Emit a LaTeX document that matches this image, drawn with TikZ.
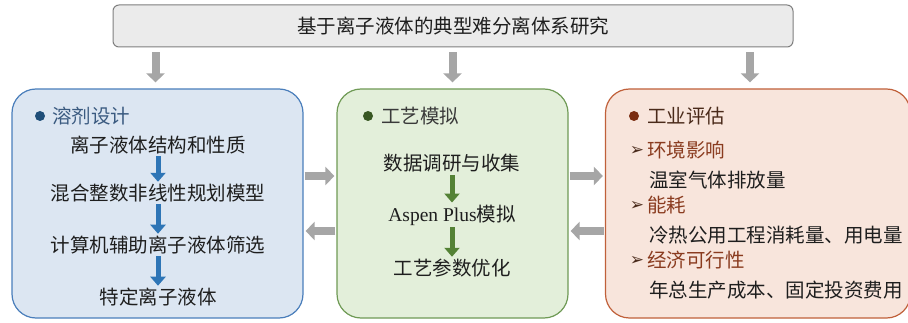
\documentclass[tikz,border=0pt]{standalone}
\usepackage{fontspec}
\newfontfamily\cjk{Noto Sans CJK SC}
\newfontfamily\latinserif{Liberation Serif}
\newfontfamily\symb{DejaVu Sans}
\usetikzlibrary{arrows.meta,calc}
\definecolor{topfill}{HTML}{EBEBEB}
\definecolor{topdraw}{HTML}{7F7F7F}
\definecolor{garrow}{HTML}{A6A6A6}
\definecolor{bfill}{HTML}{DCE6F2}
\definecolor{bdraw}{HTML}{4A7EBB}
\definecolor{barrow}{HTML}{2E75B6}
\definecolor{btitle}{HTML}{3A5A80}
\definecolor{bdot}{HTML}{1F4E79}
\definecolor{gfill}{HTML}{E3EFDA}
\definecolor{gdraw}{HTML}{6F9A55}
\definecolor{garr}{HTML}{548235}
\definecolor{gtitle}{HTML}{3A3A3A}
\definecolor{gdot}{HTML}{385723}
\definecolor{rfill}{HTML}{F8E5DC}
\definecolor{rdraw}{HTML}{C0603A}
\definecolor{rtitle}{HTML}{4A2A1A}
\definecolor{rdot}{HTML}{7B2E12}
\definecolor{rhead}{HTML}{8A3B1F}
\definecolor{txt}{HTML}{1E1E1E}
\tikzset{
  panel/.style={draw, line width=1.2pt, rounded corners=24pt, inner sep=0pt},
  txtnode/.style={font=\cjk\fontsize{19.5}{22}\selectfont, text=txt, inner sep=1pt},
  bulletarrow/.style={font=\symb\fontsize{17}{18}\selectfont, text=rtitle, inner sep=0pt},
  graybig/.style={draw=garrow, line width=8pt, -{Triangle[width=18pt,length=9pt]}},
  blueflow/.style={draw=barrow, line width=5pt, -{Triangle[width=15pt,length=9pt]}},
  greenflow/.style={draw=garr, line width=5pt, -{Triangle[width=15pt,length=9pt]}},
  dotmark/.style={circle, inner sep=0pt, minimum size=10pt},
}
\begin{document}
\begin{tikzpicture}[x=1pt,y=-1pt]
\useasboundingbox (0,0) rectangle (908,323);
\begin{scope}
\clip (0,0) rectangle (908,323);
% top box
\node[draw=topdraw, fill=topfill, line width=1pt, rounded corners=6pt, minimum width=680pt, minimum height=42pt, txtnode] (top) at (453,26) {基于离子液体的典型难分离体系研究};
% panels
\node[panel, draw=bdraw, fill=bfill, minimum width=291pt, minimum height=229pt] (L) at (157.5,203.5) {};
\node[panel, draw=gdraw, fill=gfill, minimum width=231pt, minimum height=229pt] (M) at (452.5,203.5) {};
\node[panel, draw=rdraw, fill=rfill, minimum width=305pt, minimum height=229pt] (R) at (758,203.5) {};
\end{scope}
% down arrows
\draw[graybig] ($(top.south -| L.north)+(-2,5)$) -- ($(L.north)+(-2,-6)$);
\draw[graybig] ($(top.south -| M.north)+(0,5)$) -- ($(M.north)+(0,-6)$);
\draw[graybig] ($(top.south -| R.north)+(-8,5)$) -- ($(R.north)+(-8,-6)$);
% horizontal arrows
\draw[graybig] ($(L.east)+(1,-27.5)$) -- ($(M.west)+(-2,-27.5)$);
\draw[graybig] ($(M.west)+(-1,27.5)$) -- ($(L.east)+(2,27.5)$);
\draw[graybig] ($(M.east)+(1,-27.5)$) -- ($(R.west)+(-2,-27.5)$);
\draw[graybig] ($(R.west)+(-1,27.5)$) -- ($(M.east)+(2,27.5)$);
% left panel
\node[dotmark, fill=bdot] (Ld) at (40,116) {};
\node[txtnode, text=btitle, anchor=west] (Lt) at (51,116) {溶剂设计};
\node[txtnode] (L1) at (158,145) {离子液体结构和性质};
\node[txtnode] (L2) at (158,193) {混合整数非线性规划模型};
\node[txtnode] (L3) at (158,245) {计算机辅助离子液体筛选};
\node[txtnode] (L4) at (158,297) {特定离子液体};
\draw[blueflow] ($(L1.south)+(0,1)$) -- ($(L2.north)+(0,-1)$);
\draw[blueflow] ($(L2.south)+(0,1)$) -- ($(L3.north)+(0,-1)$);
\draw[blueflow] ($(L3.south)+(0,1)$) -- ($(L4.north)+(0,-1)$);
% middle panel
\node[dotmark, fill=gdot] (Md) at (368,116) {};
\node[txtnode, text=gtitle, anchor=west] (Mt) at (380,116) {工艺模拟};
\node[txtnode] (M1) at (452,163) {数据调研与收集};
\node[txtnode] (M2) at (452,215) {{\latinserif Aspen Plus}模拟};
\node[txtnode] (M3) at (452,268) {工艺参数优化};
\draw[greenflow] ($(M1.south)+(0,2)$) -- ($(M2.north)+(0,-1)$);
\draw[greenflow] ($(M2.south)+(0,1)$) -- ($(M3.north)+(0,-1)$);
% right panel
\node[dotmark, fill=rdot] (Rd) at (634,116) {};
\node[txtnode, text=rtitle, anchor=west] (Rt) at (646,116) {工业评估};
\node[bulletarrow] (Ra1) at (637,151) {➢};
\node[txtnode, text=rhead, anchor=west] (Rh1) at (646,150) {环境影响};
\node[txtnode, anchor=west] (Rs1) at (648,180) {温室气体排放量};
\node[bulletarrow] (Ra2) at (637,206) {➢};
\node[txtnode, text=rhead, anchor=west] (Rh2) at (646,205) {能耗};
\node[txtnode, anchor=west] (Rs2) at (648,235) {冷热公用工程消耗量、用电量};
\node[bulletarrow] (Ra3) at (637,261) {➢};
\node[txtnode, text=rhead, anchor=west] (Rh3) at (646,260) {经济可行性};
\node[txtnode, anchor=west] (Rs3) at (648,290) {年总生产成本、固定投资费用};
\end{tikzpicture}
\end{document}
